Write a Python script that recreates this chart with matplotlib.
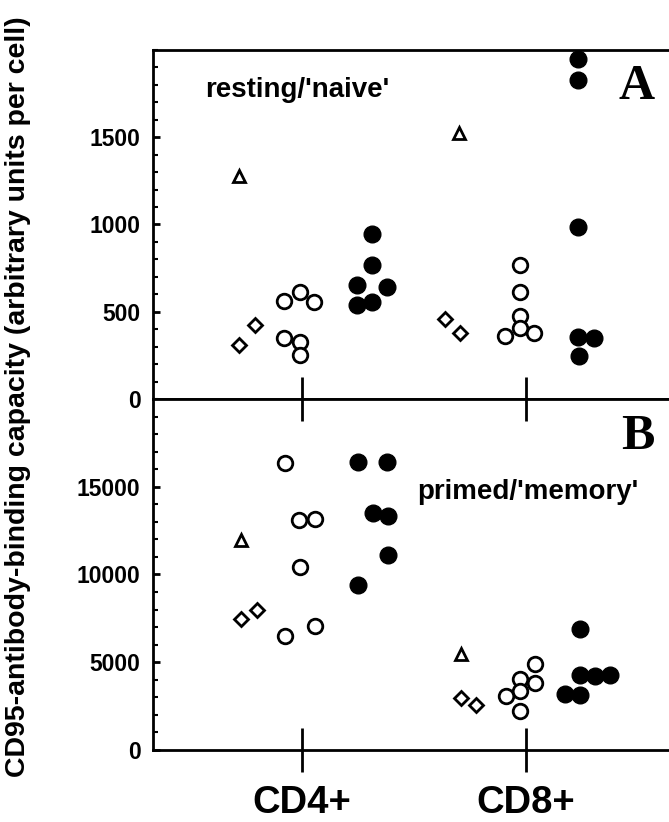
import matplotlib
matplotlib.use('Agg')
import matplotlib.pyplot as plt
from matplotlib.ticker import MultipleLocator

plt.rcParams['font.family'] = ['Liberation Sans', 'DejaVu Sans']
plt.rcParams['font.weight'] = 'bold'

# cell types on the x axis (positions 1 and 2)
categories = ['CD4+', 'CD8+']

# panel A: resting/'naive' cells  (x = category position incl. group offset, y = value)
naive_tri_x = [0.72, 1.70]
naive_tri_y = [1277, 1523]
naive_dia_x = [0.72, 0.79, 1.64, 1.705]
naive_dia_y = [310, 425, 458, 381]
naive_open_x = [0.92, 0.99, 1.055, 0.92, 0.99, 0.99,
                1.973, 1.973, 1.973, 1.973, 1.906, 2.037]
naive_open_y = [559, 611, 556, 352, 326, 253,
                770, 613, 477, 406, 362, 377]
naive_fill_x = [1.314, 1.314, 1.247, 1.381, 1.247, 1.314,
                2.235, 2.235, 2.235, 2.235, 2.304, 2.238]
naive_fill_y = [946, 770, 655, 640, 536, 555,
                1948, 1829, 987, 358, 352, 247]

# panel B: primed/'memory' cells
memory_tri_x = [0.73, 1.713]
memory_tri_y = [11972, 5460]
memory_dia_x = [0.728, 0.798, 1.71, 1.777]
memory_dia_y = [7471, 7950, 2969, 2586]
memory_open_x = [0.924, 0.988, 1.058, 0.991, 0.924, 1.058,
                 2.040, 2.040, 1.973, 1.973, 1.911, 1.973]
memory_open_y = [16340, 13122, 13161, 10440, 6513, 7088,
                 4885, 3831, 4061, 3352, 3103, 2203]
memory_fill_x = [1.251, 1.381, 1.318, 1.385, 1.385, 1.251,
                 2.241, 2.241, 2.308, 2.375, 2.174, 2.241]
memory_fill_y = [16437, 16437, 13506, 13314, 11111, 9387,
                 6896, 4253, 4215, 4253, 3199, 3161]


def draw(ax, tx, ty, dx, dy, ox, oy, fx, fy):
    ax.plot(tx, ty, '^', ms=8, mfc='white', mec='black', mew=2, ls='none')
    ax.plot(dx, dy, 'D', ms=7.5, mfc='white', mec='black', mew=2, ls='none')
    ax.plot(ox, oy, 'o', ms=10.5, mfc='white', mec='black', mew=2, ls='none')
    ax.plot(fx, fy, 'o', ms=12, mfc='black', mec='black', ls='none')


fig = plt.figure(figsize=(6.69, 8.22), dpi=100)
ax1 = fig.add_axes([0.2287, 0.5146, 0.7713, 0.4246])
ax2 = fig.add_axes([0.2287, 0.0876, 0.7713, 0.4270])

draw(ax1, naive_tri_x, naive_tri_y, naive_dia_x, naive_dia_y,
     naive_open_x, naive_open_y, naive_fill_x, naive_fill_y)
draw(ax2, memory_tri_x, memory_tri_y, memory_dia_x, memory_dia_y,
     memory_open_x, memory_open_y, memory_fill_x, memory_fill_y)

ax1.set_ylim(0, 2000)
ax2.set_ylim(0, 20000)
ax1.yaxis.set_minor_locator(MultipleLocator(100))
ax2.yaxis.set_minor_locator(MultipleLocator(1000))
ax1.set_yticks([0, 500, 1000, 1500])
ax2.set_yticks([0, 5000, 10000, 15000])

for ax in (ax1, ax2):
    ax.set_xlim(0.335, 2.64)
    ax.spines['right'].set_visible(False)
    for s in ('left', 'top', 'bottom'):
        ax.spines[s].set_linewidth(2)
    ax.tick_params(axis='y', which='major', direction='in', length=5, width=2,
                   labelsize=16.5, pad=9)
    ax.tick_params(axis='y', which='minor', direction='in', length=3.5, width=1.5)
    for lab in ax.get_yticklabels():
        lab.set_fontweight('bold')

ax1.set_xticks([1, 2])
ax1.tick_params(axis='x', which='both', bottom=False, top=False, labelbottom=False)
ax2.set_xticks([1, 2])
ax2.set_xticklabels(categories, fontsize=27.5, fontweight='bold')
ax2.tick_params(axis='x', which='major', direction='inout', length=31, width=2,
                top=True, bottom=True, pad=10)
ax2.tick_params(axis='x', which='minor', bottom=False, top=False)

ax1.text(0.1008, 0.885, "resting/'naive'", transform=ax1.transAxes,
         fontsize=20, fontweight='bold', ha='left', va='center')
ax2.text(0.5116, 0.734, "primed/'memory'", transform=ax2.transAxes,
         fontsize=20, fontweight='bold', ha='left', va='center')
ax1.text(0.938, 0.894, 'A', transform=ax1.transAxes, fontsize=36,
         fontweight='bold', family='Liberation Serif', ha='center', va='center')
ax2.text(0.94, 0.892, 'B', transform=ax2.transAxes, fontsize=36,
         fontweight='bold', family='Liberation Serif', ha='center', va='center')

fig.text(0.027, 0.518, 'CD95-antibody-binding capacity (arbitrary units per cell)',
         rotation=90, ha='center', va='center', fontsize=20.5, fontweight='bold')

fig.savefig('out.png', dpi=100)
